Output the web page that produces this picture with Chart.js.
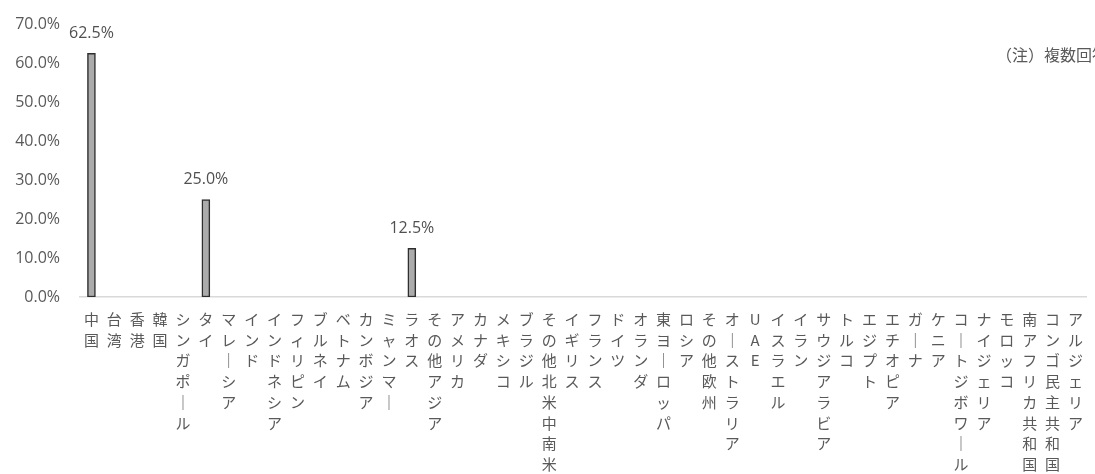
<!DOCTYPE html>
<html>
<head>
<meta charset="utf-8">
<script src="https://cdn.jsdelivr.net/npm/chart.js@4"></script>
<style>
  html, body { margin: 0; padding: 0; background: #fff; overflow: hidden; }
  #wrap { width: 1095px; height: 474px; position: relative; }
</style>
</head>
<body>
<div id="wrap"><canvas id="c" width="1095" height="474"></canvas></div>
<script>
// 国・地域
const categories = [
  '中国', '台湾', '香港', '韓国', 'シンガポール', 'タイ', 'マレーシア', 'インド',
  'インドネシア', 'フィリピン', 'ブルネイ', 'ベトナム', 'カンボジア', 'ミャンマー', 'ラオス',
  'その他アジア', 'アメリカ', 'カナダ', 'メキシコ', 'ブラジル', 'その他北米中南米',
  'イギリス', 'フランス', 'ドイツ', 'オランダ', '東ヨーロッパ', 'ロシア', 'その他欧州',
  'オーストラリア', 'UAE', 'イスラエル', 'イラン', 'サウジアラビア', 'トルコ', 'エジプト',
  'エチオピア', 'ガーナ', 'ケニア', 'コートジボワール', 'ナイジェリア', 'モロッコ',
  '南アフリカ共和国', 'コンゴ民主共和国', 'アルジェリア'
];
// 割合 (%)
const shares = [
  62.5, 0, 0, 0, 0, 25.0, 0, 0,
  0, 0, 0, 0, 0, 0, 12.5,
  0, 0, 0, 0, 0, 0,
  0, 0, 0, 0, 0, 0, 0,
  0, 0, 0, 0, 0, 0, 0,
  0, 0, 0, 0, 0, 0,
  0, 0, 0
];
const yTicks = [0, 10, 20, 30, 40, 50, 60, 70];
const noteText = '（注）複数回答';

const FONT = '"Noto Sans CJK JP", "Noto Sans", sans-serif';

// 縦書き風ラベル：1文字ずつ改行、長音は縦棒に
const vertLabels = categories.map(s => Array.from(s).map(ch => ch === 'ー' ? '｜' : ch));

// 棒の上に値を表示
const valueLabels = {
  id: 'valueLabels',
  afterDatasetsDraw(chart) {
    const ctx = chart.ctx;
    const meta = chart.getDatasetMeta(0);
    ctx.save();
    ctx.font = '16px "Open Sans", sans-serif';
    ctx.fillStyle = '#505050';
    ctx.textAlign = 'center';
    ctx.textBaseline = 'middle';
    meta.data.forEach((bar, i) => {
      const v = shares[i];
      if (!v) return;
      ctx.fillText(v.toFixed(1) + '%', bar.x, bar.y - 20);
    });
    ctx.restore();
  }
};

const notePlugin = {
  id: 'note',
  afterDraw(chart) {
    const ctx = chart.ctx;
    ctx.save();
    ctx.font = '16px ' + FONT;
    ctx.fillStyle = '#595959';
    ctx.textAlign = 'left';
    ctx.textBaseline = 'middle';
    ctx.fillText(noteText, 996, 55);
    ctx.restore();
  }
};

new Chart(document.getElementById('c'), {
  type: 'bar',
  data: {
    labels: vertLabels,
    datasets: [{
      data: shares,
      backgroundColor: '#ababab',
      borderColor: '#2e2e2e',
      borderWidth: 1.5,
      borderSkipped: false,
      barThickness: 8
    }]
  },
  options: {
    responsive: false,
    animation: false,
    layout: { padding: { top: 24, right: 3, left: 0, bottom: 0 } },
    plugins: { legend: { display: false }, tooltip: { enabled: false } },
    scales: {
      x: {
        grid: { display: false, drawTicks: false },
        border: { display: true, color: '#d9d9d9', width: 1.5 },
        ticks: {
          autoSkip: false,
          maxRotation: 0,
          minRotation: 0,
          padding: 12,
          color: '#595959',
          font: { family: FONT, size: 15, lineHeight: 1.38 }
        },
        afterFit(scale) { scale.height = 177; }
      },
      y: {
        min: 0,
        max: 70,
        afterBuildTicks(scale) { scale.ticks = yTicks.map(v => ({ value: v })); },
        grid: { display: false, drawTicks: false },
        border: { display: false },
        ticks: {
          padding: 20,
          color: '#595959',
          font: { family: 'Open Sans', size: 16 },
          callback: v => v.toFixed(1) + '%'
        },
        afterFit(scale) {
          scale.width = 80;
          scale.paddingTop = 0;
          scale.paddingBottom = 0;
        }
      }
    }
  },
  plugins: [valueLabels, notePlugin]
});
</script>
</body>
</html>
